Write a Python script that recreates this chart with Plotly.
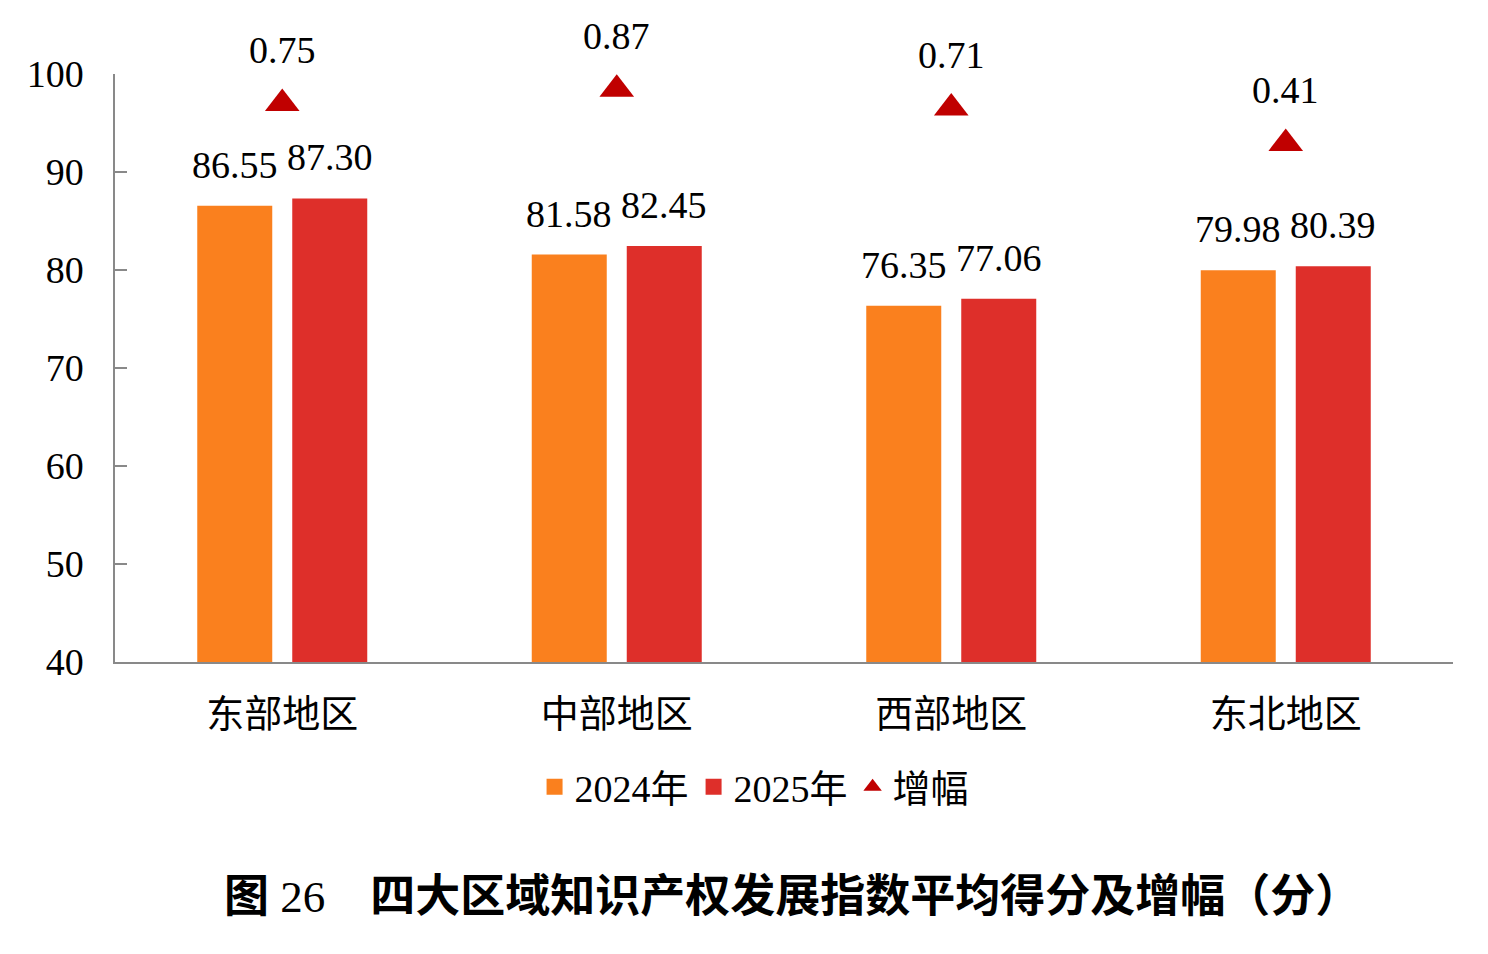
import plotly.graph_objects as go

categories = ["东部地区", "中部地区", "西部地区", "东北地区"]
score_2024 = [86.55, 81.58, 76.35, 79.98]
score_2025 = [87.30, 82.45, 77.06, 80.39]
growth = [0.75, 0.87, 0.71, 0.41]
label_2024 = ["86.55", "81.58", "76.35", "79.98"]
label_2025 = ["87.30", "82.45", "77.06", "80.39"]
label_growth = ["0.75", "0.87", "0.71", "0.41"]

FONT = "Liberation Serif, 'Times New Roman', 'Noto Sans CJK SC', serif"
C24 = "#FA801E"
C25 = "#DE2F2A"
CTRI = "#C00000"

fig = go.Figure()
fig.add_trace(go.Bar(name="2024年", x=categories, y=score_2024, marker_color=C24,
                     marker_line_width=0, showlegend=False))
fig.add_trace(go.Bar(name="2025年", x=categories, y=score_2025, marker_color=C25,
                     marker_line_width=0, showlegend=False))
fig.add_trace(go.Scatter(name="增幅", x=categories, y=growth, yaxis="y2", mode="markers",
                         marker=dict(symbol="triangle-up", size=30, color=CTRI),
                         showlegend=False))

# legend-only entries (no data drawn)
fig.add_trace(go.Scatter(name="2024年", x=[None], y=[None], mode="markers",
                         marker=dict(symbol="square", size=16, color=C24)))
fig.add_trace(go.Scatter(name="2025年", x=[None], y=[None], mode="markers",
                         marker=dict(symbol="square", size=16, color=C25)))
fig.add_trace(go.Scatter(name="增幅", x=[None], y=[None], mode="markers",
                         marker=dict(symbol="triangle-up", size=16, color=CTRI)))

annotations = []
for i, c in enumerate(categories):
    annotations.append(dict(x=c, y=score_2024[i], xref="x", yref="y", text=label_2024[i],
                            showarrow=False, xshift=-47.5, yshift=41, yanchor="middle",
                            font=dict(family=FONT, size=38, color="black")))
    annotations.append(dict(x=c, y=score_2025[i], xref="x", yref="y", text=label_2025[i],
                            showarrow=False, xshift=47.5, yshift=41, yanchor="middle",
                            font=dict(family=FONT, size=38, color="black")))
    annotations.append(dict(x=c, y=growth[i], xref="x", yref="y2", text=label_growth[i],
                            showarrow=False, yshift=53, yanchor="middle",
                            font=dict(family=FONT, size=38, color="black")))

annotations.append(dict(x=0.506, y=-0.4, xref="paper", yref="paper", yanchor="middle",
                        text="<b>图</b> 26　<b>四大区域知识产权发展指数平均得分及增幅（分）</b>",
                        showarrow=False,
                        font=dict(family="Liberation Serif, 'Noto Sans CJK SC', sans-serif",
                                  size=45, color="black")))

fig.update_layout(
    width=1488, height=954,
    margin=dict(l=115, r=35, t=74, b=292),
    paper_bgcolor="white", plot_bgcolor="white",
    barmode="group", bargap=0.432, bargroupgap=0.2105,
    font=dict(family=FONT, size=38, color="black"),
    showlegend=True,
    legend=dict(orientation="h", x=0.478, xanchor="center", y=-0.2126, yanchor="middle",
                font=dict(family=FONT, size=38, color="black"),
                itemwidth=30, tracegroupgap=0, itemsizing="trace"),
    xaxis=dict(showline=True, linecolor="#898989", linewidth=1.5, ticks="",
               showgrid=False, tickfont=dict(family=FONT, size=38, color="black"),
               ticklabelstandoff=18),
    yaxis=dict(range=[40, 100], dtick=10, showline=True, linecolor="#898989", linewidth=1.5,
               ticks="inside", ticklen=12, tickcolor="#898989", tickwidth=1.5,
               showgrid=False, zeroline=False,
               tickfont=dict(family=FONT, size=38, color="black"),
               ticklabelstandoff=22),
    yaxis2=dict(range=[-4, 1], overlaying="y", side="right", visible=False,
                showgrid=False, zeroline=False),
    annotations=annotations,
)

fig.write_html("out.html")
